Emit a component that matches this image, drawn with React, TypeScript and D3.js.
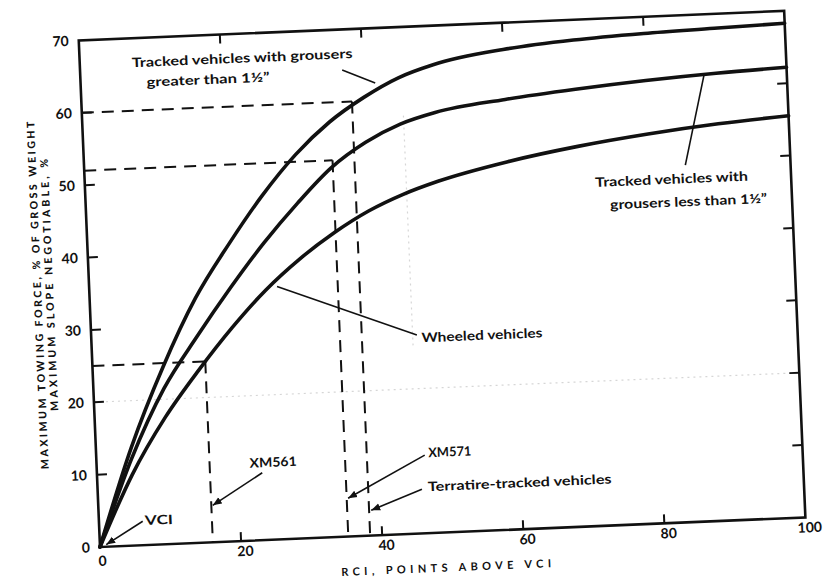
import { useRef, useEffect } from "react";
import * as d3 from "d3";

const WIDTH = 824;
const HEIGHT = 578;
// the scanned sheet sits a little crooked, so the whole plot is tilted
const ORIGIN_X = 100;
const ORIGIN_Y = 547;
const PLOT_W = 706;
const PLOT_H = 507;
const TILT = -2.4;
const FONT = "Lato, 'DejaVu Sans', sans-serif";

const X_TICKS = [0, 20, 40, 60, 80, 100];
const Y_TICKS = [0, 10, 20, 30, 40, 50, 60, 70];

// [RCI points above VCI, % of gross weight]
const GROUSERS_OVER: [number, number][] = [
  [0, 0], [5, 13.5], [10, 24.5], [15, 33.8], [20, 41], [25, 47.5], [30, 53], [35, 57.3],
  [40, 60.5], [45, 63], [50, 64.6], [60, 66.3], [70, 67.2], [80, 67.7], [90, 68], [100, 68.3],
];
const GROUSERS_UNDER: [number, number][] = [
  [0, 0], [5, 12], [10, 21.5], [15, 28.5], [20, 35], [25, 41], [30, 46.3], [35, 51],
  [40, 54.3], [45, 56.6], [50, 58], [60, 59.4], [70, 60.4], [80, 61.2], [90, 61.8], [100, 62.2],
];
const WHEELED: [number, number][] = [
  [0, 0], [5, 9.8], [10, 17.5], [15, 23.8], [20, 29.5], [25, 34.5], [30, 38.6], [35, 42],
  [40, 44.8], [45, 46.9], [50, 48.5], [60, 50.8], [70, 52.5], [80, 53.8], [90, 54.8], [100, 55.5],
];

// vehicle readings: [RCI, %]
const XM561: [number, number] = [16, 25];
const XM571: [number, number] = [35.2, 52];
const TERRATIRE: [number, number] = [38.3, 60];

// annotations, in data units for the leaders and plot pixels for the text
const NOTES = [
  { lines: ["Tracked vehicles with grousers", "greater than 1\u00BD\u201D"], x: [52, 66], y: [-478, -458], len: [221, 123], from: [37.1, 64.4], to: [41.7, 62.4], arrow: false },
  { lines: ["Tracked vehicles with", "grousers less than 1\u00BD\u201D"], x: [510, 524], y: [-339, -316], len: [153, 157], from: [85.1, 49.3], to: [88.3, 61.7], arrow: false },
  { lines: ["Wheeled vehicles"], x: [330], y: [-191], len: [121], from: [26.6, 34.9], to: [46.1, 27.4], arrow: false },
  { lines: ["XM561"], x: [153], y: [-73], len: [47], from: [23.4, 9.3], to: [16.2, 5.1], arrow: true },
  { lines: ["XM571"], x: [332], y: [-76], len: [43], from: [46.5, 10.8], to: [35.4, 5.3], arrow: true },
  { lines: ["Terratire-tracked vehicles"], x: [330], y: [-42], len: [184], from: [45.9, 6.1], to: [38.6, 3.5], arrow: true },
  { lines: ["VCI"], x: [46], y: [-20], len: [28], from: [6.2, 3.3], to: [0.9, 0.3], arrow: true },
];

export default function App() {
  const svgRef = useRef<SVGSVGElement>(null);

  useEffect(() => {
    const svg = d3.select(svgRef.current!);
    svg.selectAll("*").remove();

    svg.append("rect").attr("width", WIDTH).attr("height", HEIGHT).attr("fill", "#fff");

    const defs = svg.append("defs");
    defs.append("marker")
      .attr("id", "head")
      .attr("viewBox", "0 0 10 10")
      .attr("refX", 10)
      .attr("refY", 5)
      .attr("markerWidth", 9)
      .attr("markerHeight", 9)
      .attr("markerUnits", "userSpaceOnUse")
      .attr("orient", "auto")
      .append("path")
      .attr("d", "M0,1 L10,5 L0,9 Z")
      .attr("fill", "#111");

    const x = d3.scaleLinear([0, 100], [0, PLOT_W]);
    const y = d3.scaleLinear([0, 70], [0, -PLOT_H]);

    const g = svg.append("g")
      .attr("transform", `translate(${ORIGIN_X},${ORIGIN_Y}) rotate(${TILT})`);

    // scan marks: faint dotted lines
    g.append("line")
      .attr("x1", x(0)).attr("x2", x(100)).attr("y1", y(20)).attr("y2", y(20))
      .attr("stroke", "#d6d6d6").attr("stroke-width", 1.2).attr("stroke-dasharray", "2,4");
    g.append("line")
      .attr("x1", x(45.5)).attr("x2", x(45.5)).attr("y1", y(26)).attr("y2", y(58))
      .attr("stroke", "#d6d6d6").attr("stroke-width", 1.2).attr("stroke-dasharray", "2,4");

    // frame
    g.append("rect")
      .attr("x", 0).attr("y", -PLOT_H).attr("width", PLOT_W).attr("height", PLOT_H)
      .attr("fill", "none").attr("stroke", "#111").attr("stroke-width", 2.6);

    const inner = Y_TICKS.filter(v => v > 0 && v < 70);
    const innerX = X_TICKS.filter(v => v > 0 && v < 100);
    const ticks = g.append("g").attr("stroke", "#111").attr("stroke-width", 2);
    inner.forEach(v => {
      ticks.append("line").attr("x1", 0).attr("x2", 10).attr("y1", y(v)).attr("y2", y(v));
      ticks.append("line").attr("x1", PLOT_W).attr("x2", PLOT_W - 10).attr("y1", y(v)).attr("y2", y(v));
    });
    innerX.forEach(v => {
      ticks.append("line").attr("x1", x(v)).attr("x2", x(v)).attr("y1", 0).attr("y2", -9);
      ticks.append("line").attr("x1", x(v)).attr("x2", x(v)).attr("y1", -PLOT_H).attr("y2", -PLOT_H + 9);
    });

    // tick labels
    g.append("g").selectAll("text").data(Y_TICKS).join("text")
      .attr("x", -10).attr("y", d => y(d) + 5)
      .attr("text-anchor", "end")
      .attr("font-family", FONT).attr("font-weight", 700).attr("font-size", 14)
      .attr("fill", "#111")
      .text(d => d);
    g.append("g").selectAll("text").data(X_TICKS).join("text")
      .attr("x", d => x(d) + (d === 0 ? 2 : 4)).attr("y", d => (d === 0 ? 19 : 15))
      .attr("text-anchor", "middle")
      .attr("font-family", FONT).attr("font-weight", 700).attr("font-size", 14)
      .attr("fill", "#111")
      .text(d => d);

    // axis titles
    const titles = [
      { t: "MAXIMUM TOWING FORCE, % OF GROSS WEIGHT", cx: -52, cy: -254, len: 348 },
      { t: "MAXIMUM SLOPE NEGOTIABLE, %", cx: -40, cy: -264, len: 252 },
    ];
    titles.forEach(d => {
      g.append("text")
        .attr("transform", `translate(${d.cx},${d.cy}) rotate(-90)`)
        .attr("text-anchor", "middle").attr("dominant-baseline", "central")
        .attr("font-family", FONT).attr("font-weight", 900).attr("font-size", 10.5)
        .attr("textLength", d.len).attr("lengthAdjust", "spacing")
        .attr("fill", "#111")
        .text(d.t);
    });
    g.append("text")
      .attr("x", 345).attr("y", 39)
      .attr("text-anchor", "middle")
      .attr("font-family", FONT).attr("font-weight", 700).attr("font-size", 11)
      .attr("textLength", 210).attr("lengthAdjust", "spacing")
      .attr("fill", "#111")
      .text("RCI, POINTS ABOVE VCI");

    // dashed readings
    const dash = g.append("g")
      .attr("fill", "none").attr("stroke", "#111").attr("stroke-width", 2)
      .attr("stroke-dasharray", "12,8");
    [XM561, XM571, TERRATIRE].forEach(([rx, ry]) => {
      dash.append("line").attr("x1", x(0)).attr("x2", x(rx)).attr("y1", y(ry)).attr("y2", y(ry));
      dash.append("line").attr("x1", x(rx)).attr("x2", x(rx)).attr("y1", y(ry)).attr("y2", y(0));
    });

    // curves
    const line = d3.line<[number, number]>()
      .x(d => x(d[0]))
      .y(d => y(d[1]))
      .curve(d3.curveMonotoneX);
    g.append("g").selectAll("path").data([GROUSERS_OVER, GROUSERS_UNDER, WHEELED]).join("path")
      .attr("d", d => line(d))
      .attr("fill", "none")
      .attr("stroke", "#111")
      .attr("stroke-width", 3.6)
      .attr("stroke-linecap", "round");

    // annotations
    NOTES.forEach(n => {
      const l = g.append("line")
        .attr("x1", x(n.from[0])).attr("y1", y(n.from[1]))
        .attr("x2", x(n.to[0])).attr("y2", y(n.to[1]))
        .attr("stroke", "#111").attr("stroke-width", 1.6);
      if (n.arrow) l.attr("marker-end", "url(#head)");
      n.lines.forEach((t, i) => {
        g.append("text")
          .attr("x", n.x[i]).attr("y", n.y[i])
          .attr("font-family", FONT).attr("font-weight", 700).attr("font-size", 13)
          .attr("textLength", n.len[i]).attr("lengthAdjust", "spacingAndGlyphs")
          .attr("fill", "#111")
          .text(t);
      });
    });
  }, []);

  return (
    <svg
      ref={svgRef}
      width={WIDTH}
      height={HEIGHT}
      style={{ position: "absolute", left: 0, top: 0, display: "block" }}
    />
  );
}
